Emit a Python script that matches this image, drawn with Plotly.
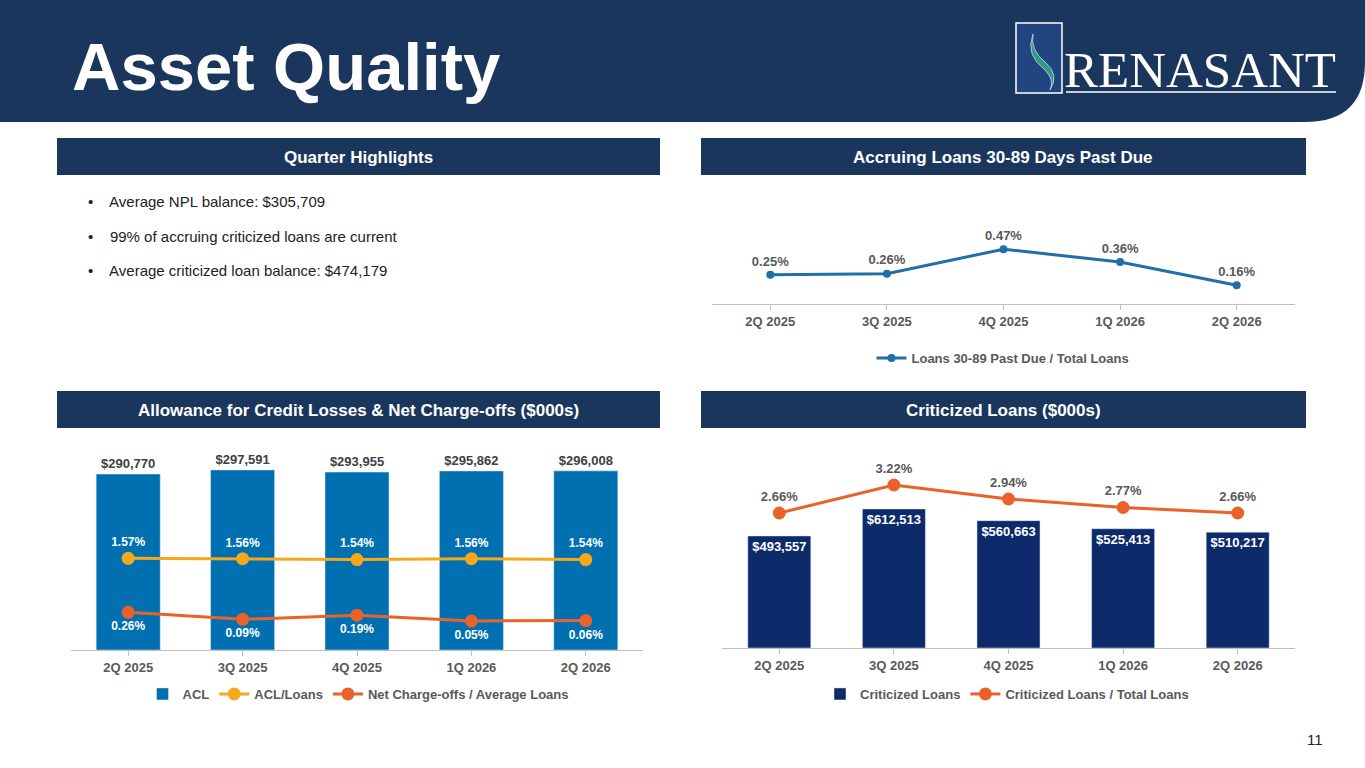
import plotly.graph_objects as go

W, H = 1365, 768
def px(x): return x / W
def py(y): return 1 - y / H

quarters = ["2Q 2025", "3Q 2025", "4Q 2025", "1Q 2026", "2Q 2026"]
past_due = [0.25, 0.26, 0.47, 0.36, 0.16]
acl = [290770, 297591, 293955, 295862, 296008]
acl_loans = [1.57, 1.56, 1.54, 1.56, 1.54]
nco = [0.26, 0.09, 0.19, 0.05, 0.06]
crit = [493557, 612513, 560663, 525413, 510217]
crit_pct = [2.66, 3.22, 2.94, 2.77, 2.66]
bullets = ["Average NPL balance: $305,709",
           "99% of accruing criticized loans are current",
           "Average criticized loan balance: $474,179"]

NAVY = "#1b365d"
F = "Arial, Liberation Sans"
fig = go.Figure()

def b(s): return f"<b>{s}</b>"

fig.add_trace(go.Scatter(x=quarters, y=past_due, mode="lines+markers+text",
    text=[b(f"{v:.2f}%") for v in past_due], textposition="top center",
    textfont=dict(size=13, color="#595959", family=F),
    line=dict(color="#1f6fa8", width=3), marker=dict(size=8),
    name=b("Loans 30-89 Past Due / Total Loans"), xaxis="x", yaxis="y",
    cliponaxis=False, legend="legend", showlegend=True))

fig.add_trace(go.Bar(x=quarters, y=acl, marker_color="#0070b0", width=0.56,
    text=[b(f"${v:,}") for v in acl], textposition="outside",
    textfont=dict(size=13, color="#404040", family=F), cliponaxis=False,
    name=b("ACL"), xaxis="x2", yaxis="y2", legend="legend2"))
fig.add_trace(go.Scatter(x=quarters, y=acl_loans, mode="lines+markers+text",
    text=[b(f"{v:.2f}%") for v in acl_loans], textposition="top center",
    textfont=dict(size=12, color="white", family=F),
    line=dict(color="#f5a81c", width=3), marker=dict(size=13),
    name=b("ACL/Loans"), xaxis="x2", yaxis="y3", cliponaxis=False, legend="legend2"))
fig.add_trace(go.Scatter(x=quarters, y=nco, mode="lines+markers+text",
    text=[b(f"{v:.2f}%") for v in nco], textposition="bottom center",
    textfont=dict(size=12, color="white", family=F),
    line=dict(color="#e8622a", width=3), marker=dict(size=13),
    name=b("Net Charge-offs / Average Loans"), xaxis="x2", yaxis="y3",
    cliponaxis=False, legend="legend2"))

fig.add_trace(go.Bar(x=quarters, y=crit, marker_color="#0d2a6b", width=0.55,
    text=[b(f"${v:,}") for v in crit], textposition="inside", insidetextanchor="end",
    textfont=dict(size=13, color="white", family=F),
    name=b("Criticized Loans"), xaxis="x4", yaxis="y4", legend="legend3"))
fig.add_trace(go.Scatter(x=quarters, y=crit_pct, mode="lines+markers+text",
    text=[b(f"{v:.2f}%") for v in crit_pct], textposition="top center",
    textfont=dict(size=13, color="#595959", family=F),
    line=dict(color="#e8622a", width=3), marker=dict(size=13),
    name=b("Criticized Loans / Total Loans"), xaxis="x4", yaxis="y5",
    cliponaxis=False, legend="legend3"))

xa = dict(showgrid=False, showline=True, linecolor="#bfbfbf", ticks="outside",
          tickcolor="#bfbfbf", ticklen=5, tickprefix="<b>", ticksuffix="</b>",
          range=[-0.5, 4.5], tickfont=dict(size=13, color="#595959", family=F))
ya = dict(visible=False, showgrid=False, zeroline=False)

shapes = [
    dict(type="path", xref="paper", yref="paper",
         path=f"M 0,1 L 1,1 L 1,{py(62)} Q 1,{py(122)} {px(1305)},{py(122)} L 0,{py(122)} Z",
         fillcolor=NAVY, line_width=0, layer="below"),
    dict(type="rect", xref="paper", yref="paper", x0=px(1016), x1=px(1062), y0=py(93), y1=py(23),
         fillcolor="#23457f", line=dict(color="white", width=1.5)),
    dict(type="path", xref="paper", yref="paper",
         path=f"M {px(1033)},{py(34)} Q {px(1025)},{py(55)} {px(1045)},{py(70)} Q {px(1055)},{py(80)} {px(1050)},{py(90)} Q {px(1060)},{py(75)} {px(1045)},{py(62)} Q {px(1030)},{py(50)} {px(1033)},{py(34)} Z",
         fillcolor="#2e9b7f", line=dict(color="#a9c8e0", width=1)),
    dict(type="line", xref="paper", yref="paper", x0=px(1066), x1=px(1336), y0=py(92), y1=py(92),
         line=dict(color="white", width=1.5)),
]
for x0, x1, y0, y1 in [(57, 660, 138, 175), (701, 1306, 138, 175),
                       (57, 660, 391, 428), (701, 1306, 391, 428)]:
    shapes.append(dict(type="rect", xref="paper", yref="paper", x0=px(x0), x1=px(x1),
                       y0=py(y1), y1=py(y0), fillcolor=NAVY, line_width=0))

ann = [
    dict(text="<b>Asset Quality</b>", x=px(70), y=py(66), xanchor="left", yanchor="middle",
         font=dict(size=67, color="white", family=F)),
    dict(text="RENASANT", x=px(1200), y=py(70), xanchor="center", yanchor="middle",
         font=dict(size=51, color="white", family="Liberation Serif")),
    dict(text="11", x=px(1325), y=py(739), xanchor="right", yanchor="middle",
         font=dict(size=15, color="#222", family=F)),
]
for t, cx, cy in [("Quarter Highlights", 358, 157), ("Accruing Loans 30-89 Days Past Due", 1003, 157),
                  ("Allowance for Credit Losses & Net Charge-offs ($000s)", 358, 410),
                  ("Criticized Loans ($000s)", 1003, 410)]:
    ann.append(dict(text=f"<b>{t}</b>", x=px(cx), y=py(cy), xanchor="center", yanchor="middle",
                    font=dict(size=17, color="white", family=F)))
for i, s in enumerate(bullets):
    ann.append(dict(text="•    " + s, x=px(86), y=py(202 + 34 * i), xanchor="left", yanchor="middle",
                    font=dict(size=15, color="#222", family=F)))
for a in ann:
    a.update(xref="paper", yref="paper", showarrow=False)

leg = dict(orientation="h", xanchor="center", yanchor="middle", bgcolor="rgba(0,0,0,0)",
           font=dict(size=13, color="#595959", family=F))
fig.update_layout(
    width=W, height=H, margin=dict(l=0, r=0, t=0, b=0), paper_bgcolor="white",
    plot_bgcolor="rgba(0,0,0,0)", barmode="overlay", shapes=shapes, annotations=ann,
    xaxis=dict(xa, domain=[px(712), px(1295)], anchor="y"),
    yaxis=dict(ya, domain=[py(304), py(234)], range=[0, 0.6]),
    xaxis2=dict(xa, domain=[px(71), px(643)], anchor="y2"),
    yaxis2=dict(ya, domain=[py(650), py(440)], range=[0, 347000]),
    yaxis3=dict(ya, overlaying="y2", range=[-0.655, 4.44]),
    xaxis4=dict(xa, domain=[px(722), px(1295)], anchor="y4"),
    yaxis4=dict(ya, domain=[py(648), py(440)], range=[0, 916000]),
    yaxis5=dict(ya, overlaying="y4", range=[-0.04, 4.12]),
    legend=dict(leg, x=px(1003), y=py(358)),
    legend2=dict(leg, x=px(358), y=py(694)),
    legend3=dict(leg, x=px(1007), y=py(694)),
)
fig.write_html("out.html", config={"displayModeBar": False},
               post_script="document.body.style.margin='0';")
